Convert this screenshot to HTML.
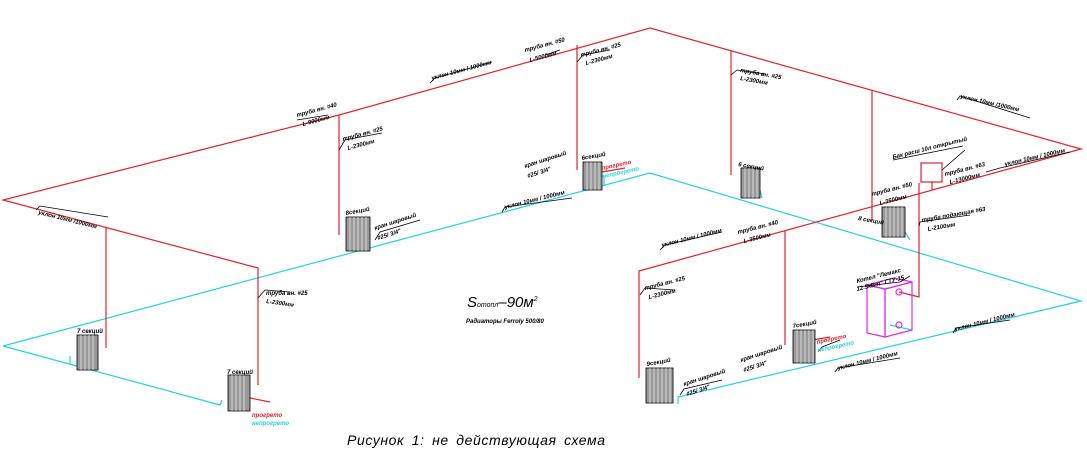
<!DOCTYPE html>
<html><head><meta charset="utf-8"><style>
html,body{margin:0;padding:0;background:#fff;}
svg{display:block;}
text{font-family:"Liberation Sans","DejaVu Sans",sans-serif;font-style:italic;fill:#000;}
.s{font-size:6px;font-weight:bold;}
</style></head><body>
<svg width="1087" height="454" viewBox="0 0 1087 454" xmlns="http://www.w3.org/2000/svg">
<!-- cyan return -->
<g stroke="#22d3e6" stroke-width="1.2" fill="none">
<polyline points="3,346 650,173 1081,301 678,397 678,404"/>
<polyline points="3,346 220,405 222,400"/>
<line x1="70" y1="364" x2="70" y2="356"/>
<polyline points="588,176 604,176 604,186"/>
<polyline points="760,190 762,198"/>
<polyline points="905,232 910,240"/>
<line x1="890" y1="325" x2="912" y2="330"/>
</g>
<!-- red supply -->
<g stroke="#e0222b" stroke-width="1.2" fill="none">
<polyline points="258,385 258,268 3,200 339,115 650,28 1081,149 639,271 639,378"/>
<line x1="106" y1="227" x2="106" y2="348"/>
<line x1="339" y1="115" x2="339" y2="235"/>
<line x1="577" y1="45" x2="577" y2="170"/>
<line x1="731" y1="51" x2="731" y2="175"/>
<line x1="872" y1="90" x2="872" y2="220"/>
<line x1="785" y1="231" x2="785" y2="345"/>
<polyline points="919,183 919,297 899,292"/>
<rect x="921" y="163" width="21" height="19"/>
<line x1="932" y1="182" x2="932" y2="190"/>
<line x1="245" y1="397" x2="270" y2="402"/>
<line x1="585" y1="175" x2="625" y2="168"/>
<line x1="795" y1="343" x2="830" y2="337"/>
</g>
<!-- boiler -->
<g stroke="#e02ae0" stroke-width="1.2" fill="none">
<polygon points="867,285 885,289 885,337 867,333"/>
<polygon points="885,289 912,282 912,330 885,337"/>
<polygon points="867,285 894,278 912,282 885,289"/>
<circle cx="899" cy="292" r="3"/>
<circle cx="899" cy="325" r="3"/>
</g>
<!-- radiators -->
<g stroke="#000" stroke-width="0.8" fill="#999">
<rect x="77" y="335" width="21" height="35"/>
<rect x="228" y="375" width="22" height="36"/>
<rect x="346" y="217" width="24" height="34"/>
<rect x="583" y="162" width="19" height="28"/>
<rect x="741" y="168" width="19" height="30"/>
<rect x="882" y="207" width="23" height="30"/>
<rect x="646" y="368" width="27" height="35"/>
<rect x="793" y="330" width="22" height="33"/>
</g>
<g stroke="#fff" stroke-width="0.6">
<path d="M81 335v35M85 335v35M89 335v35M93 335v35"/>
<path d="M232 375v36M236 375v36M240 375v36M244 375v36"/>
<path d="M350 217v34M354 217v34M358 217v34M362 217v34M366 217v34"/>
<path d="M587 162v28M591 162v28M595 162v28M599 162v28"/>
<path d="M745 168v30M749 168v30M753 168v30M757 168v30"/>
<path d="M886 207v30M890 207v30M894 207v30M898 207v30M902 207v30"/>
<path d="M650 368v35M654 368v35M658 368v35M662 368v35M666 368v35M670 368v35"/>
<path d="M797 330v33M801 330v33M805 330v33M809 330v33M813 330v33"/>
</g>
<!-- leader lines -->
<g stroke="#000" stroke-width="0.8" fill="none">
<polyline points="36,210 40,206 108,217"/>
<polyline points="430,83 435,78 492,62"/>
<polyline points="297,120 328,115"/>
<polyline points="339,150 345,140 382,133"/>
<polyline points="258,298 265,290 290,292"/>
<polyline points="545,55 560,50"/>
<polyline points="577,62 583,55 610,50"/>
<polyline points="731,75 737,70 765,74"/>
<polyline points="957,100 960,96 1030,118"/>
<polyline points="986,172 1000,168 1070,152"/>
<polyline points="893,160 963,146"/>
<polyline points="942,170 965,150"/>
<polyline points="375,240 380,232 420,220"/>
<polyline points="502,212 505,207 572,198"/>
<polyline points="660,250 665,245 722,232"/>
<polyline points="919,226 920,222 970,215"/>
<polyline points="640,295 645,288 675,290"/>
<polyline points="680,395 684,389 722,380"/>
<polyline points="818,352 822,347 840,340"/>
<polyline points="835,372 838,368 900,358"/>
<polyline points="953,333 956,328 1010,320"/>
<polyline points="857,287 900,282"/>
<polyline points="900,282 910,276"/>
</g>
<!-- labels -->
<g class="s">
<text x="38" y="214" transform="rotate(14 38 214)">уклон 10мм  /1000мм</text>
<text x="432" y="80" transform="rotate(-15 432 80)">уклон 10мм / 1000мм</text>
<text x="297" y="117" transform="rotate(-15 297 117)">труба вн. #40</text>
<text x="303" y="126" transform="rotate(-15 303 126)">L-9000мм</text>
<text x="343" y="141" transform="rotate(-15 343 141)">труба вн. #25</text>
<text x="348" y="150" transform="rotate(-15 348 150)">L-2300мм</text>
<text x="266" y="295">труба вн. #25</text>
<text x="266" y="303" transform="rotate(8 266 303)">L-2300мм</text>
<text x="525" y="52" transform="rotate(-15 525 52)">труба вн. #50</text>
<text x="530" y="62" transform="rotate(-15 530 62)">L-5000мм</text>
<text x="581" y="57" transform="rotate(-15 581 57)">труба вн. #25</text>
<text x="586" y="65" transform="rotate(-15 586 65)">L-2300мм</text>
<text x="740" y="72" transform="rotate(10 740 72)">труба вн. #25</text>
<text x="740" y="80" transform="rotate(10 740 80)">L-2300мм</text>
<text x="960" y="98" transform="rotate(13 960 98)">уклон 10мм  /1000мм</text>
<text x="1005" y="166" transform="rotate(-13 1005 166)">уклон 10мм / 1000мм</text>
<text x="893" y="159" transform="rotate(-14 893 159)">Бак расш 10л открытый</text>
<text x="945" y="176" transform="rotate(-14 945 176)">труба вн. #63</text>
<text x="950" y="184" transform="rotate(-14 950 184)">L-13000мм</text>
<text x="872" y="196" transform="rotate(-14 872 196)">труба вн. #50</text>
<text x="880" y="205" transform="rotate(-14 880 205)">L-3500мм</text>
<text x="922" y="222" transform="rotate(-10 922 222)">труба подающая #63</text>
<text x="928" y="231" transform="rotate(-10 928 231)">L-2100мм</text>
<text x="857" y="283" transform="rotate(-14 857 283)">Котел "Лемакс</text>
<text x="857" y="291" transform="rotate(-14 857 291)">12.5кВт"  ГТУ-15</text>
<text x="662" y="247" transform="rotate(-14 662 247)">уклон 10мм / 1000мм</text>
<text x="738" y="234" transform="rotate(-14 738 234)">труба вн. #40</text>
<text x="744" y="243" transform="rotate(-14 744 243)">L-3500мм</text>
<text x="645" y="290" transform="rotate(-14 645 290)">труба вн. #25</text>
<text x="649" y="299" transform="rotate(-14 649 299)">L-2300мм</text>
<text x="505" y="209" transform="rotate(-14 505 209)">уклон 10мм / 1000мм</text>
<text x="838" y="370" transform="rotate(-14 838 370)">уклон 10мм / 1000мм</text>
<text x="955" y="331" transform="rotate(-14 955 331)">уклон 10мм / 1000мм</text>
<text x="375" y="230" transform="rotate(-18 375 230)">кран шаровый</text>
<text x="378" y="240" transform="rotate(-18 378 240)">#25/ 3/4"</text>
<text x="525" y="168" transform="rotate(-18 525 168)">кран шаровый</text>
<text x="528" y="178" transform="rotate(-18 528 178)">#25/ 3/4"</text>
<text x="684" y="386" transform="rotate(-18 684 386)">кран шаровый</text>
<text x="687" y="396" transform="rotate(-18 687 396)">#25/ 3/4"</text>
<text x="741" y="362" transform="rotate(-18 741 362)">кран шаровый</text>
<text x="744" y="372" transform="rotate(-18 744 372)">#25/ 3/4"</text>
<text x="77" y="333">7 секций</text>
<text x="227" y="374">7 секций</text>
<text x="346" y="215" transform="rotate(-10 346 215)">8секций</text>
<text x="582" y="160" transform="rotate(-10 582 160)">6секций</text>
<text x="738" y="166" transform="rotate(10 738 166)">6 секций</text>
<text x="858" y="220" transform="rotate(10 858 220)">8 секций</text>
<text x="647" y="366" transform="rotate(-10 647 366)">9секций</text>
<text x="793" y="328" transform="rotate(-10 793 328)">7секций</text>
<text x="252" y="417" style="fill:#e0222b">прогрето</text>
<text x="252" y="425" style="fill:#22d3e6">непрогрето</text>
<text x="602" y="170" style="fill:#e0222b" transform="rotate(-12 602 170)">прогрето</text>
<text x="603" y="178" style="fill:#22d3e6" transform="rotate(-12 603 178)">непрогрето</text>
<text x="817" y="344" style="fill:#e0222b" transform="rotate(-12 817 344)">прогрето</text>
<text x="818" y="352" style="fill:#22d3e6" transform="rotate(-12 818 352)">непрогрето</text>
</g>
<text x="467" y="307" style="font-size:15px;font-style:italic;">S<tspan style="font-size:7px">отопл</tspan>–90м<tspan dy="-6" style="font-size:7px">2</tspan></text>
<text x="466" y="323" class="s" style="font-size:6px">Радиаторы Ferroly 500/80</text>
<text x="347" y="445" style="font-size:14px;font-style:italic;letter-spacing:0.6px;word-spacing:3px;">Рисунок 1:  не  действующая  схема</text>
</svg>
</body></html>
